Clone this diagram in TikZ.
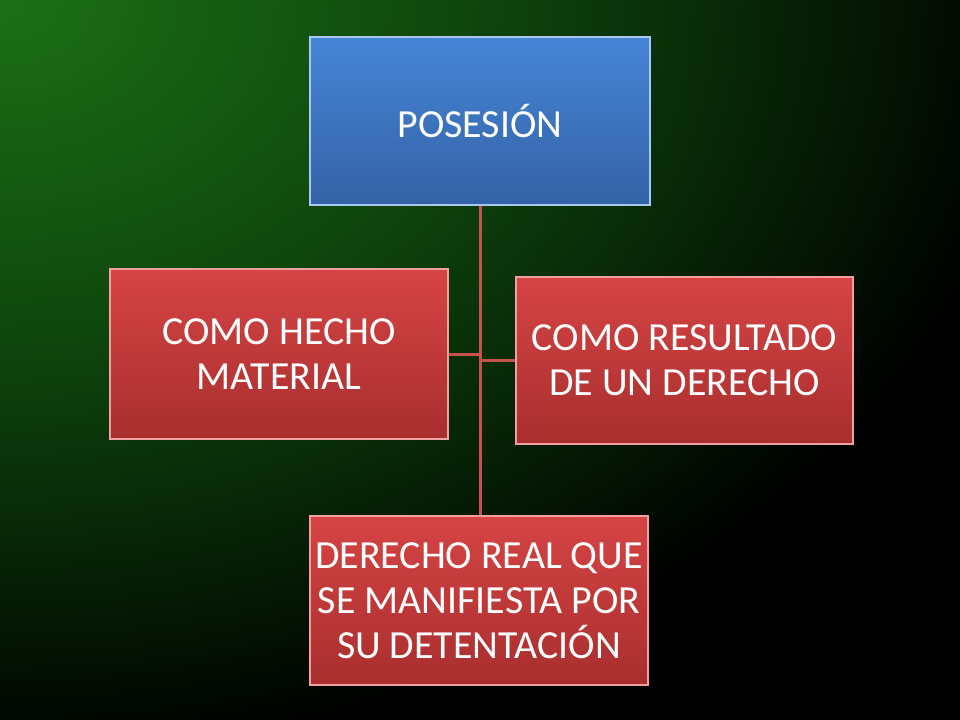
\documentclass[tikz,border=0pt]{standalone}
\usepackage{fontspec}
\setmainfont{Carlito}
\usetikzlibrary{calc}
\definecolor{bggreen}{HTML}{1B7016}
\definecolor{bgmid}{HTML}{0F470D}
\definecolor{bgdark}{HTML}{082A08}
\definecolor{bluetop}{HTML}{4585D6}
\definecolor{bluebot}{HTML}{3462A6}
\definecolor{blueedge}{HTML}{A9C8F0}
\definecolor{redtop}{HTML}{D64444}
\definecolor{redbot}{HTML}{A82E2E}
\definecolor{rededge}{HTML}{F0A0A0}
\definecolor{linkcol}{HTML}{C8504D}
\pgfdeclareradialshading{bgshade}{\pgfpoint{0bp}{0bp}}{color(0bp)=(bggreen); color(11bp)=(bgmid); color(17bp)=(bgdark); color(25bp)=(black); color(50bp)=(black)}
\tikzset{
  box/.style={rectangle, draw, line width=1.5pt, text=white, align=center,
    font=\fontsize{40}{45}\selectfont, inner sep=0pt},
  bluebox/.style={box, draw=blueedge, top color=bluetop, bottom color=bluebot},
  redbox/.style={box, draw=rededge, top color=redtop, bottom color=redbot},
  link/.style={draw=linkcol, line width=3bp}
}
\begin{document}
\begin{tikzpicture}[x=1bp,y=-1bp]
\useasboundingbox (0,0) rectangle (960,720);
\begin{scope}
\clip (0,0) rectangle (960,720);
\fill[black] (0,0) rectangle (960,720);
\shade[shading=bgshade] (0,0) ellipse (1050 and 760);
\end{scope}
\node[bluebox, minimum width=340bp, minimum height=168bp] (top) at (480,121) {POSESIÓN};
\node[redbox, minimum width=338bp, minimum height=170bp] (left) at (279,354) {COMO HECHO\\MATERIAL};
\node[redbox, minimum width=337bp, minimum height=167bp] (right) at (684.5,360.5) {COMO RESULTADO\\DE UN DERECHO};
\node[redbox, minimum width=338bp, minimum height=169bp] (bot) at (479,600.5) {DERECHO REAL QUE\\SE MANIFIESTA POR\\SU DETENTACIÓN};
\draw[link] (top.south) -- (top.south |- bot.north);
\draw[link] (left.east) -- (left.east -| top.south);
\draw[link] (right.west) -- (right.west -| top.south);
\end{tikzpicture}
\end{document}
